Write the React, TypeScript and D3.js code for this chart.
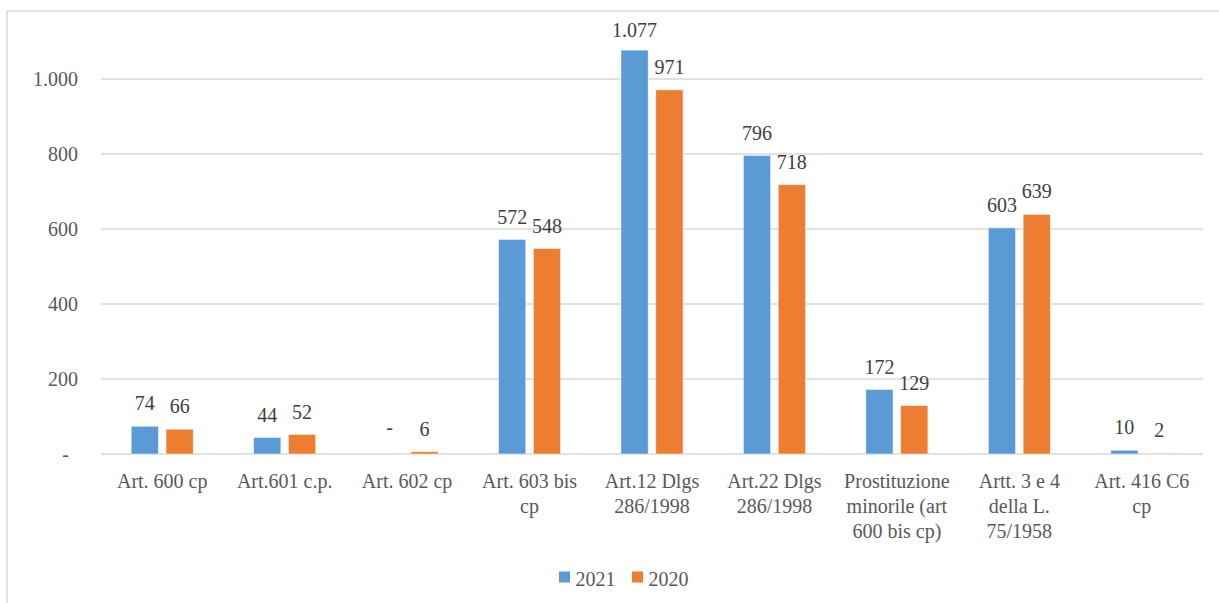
import React from "react";
import * as d3 from "d3";

// Categories (line breaks mark the wrapped axis labels)
const categories = [
  "Art. 600 cp",
  "Art.601 c.p.",
  "Art. 602 cp",
  "Art. 603 bis\ncp",
  "Art.12 Dlgs\n286/1998",
  "Art.22 Dlgs\n286/1998",
  "Prostituzione\nminorile (art\n600 bis cp)",
  "Artt. 3 e 4\ndella L.\n75/1958",
  "Art. 416 C6\ncp",
];
const seriesNames = ["2021", "2020"];
const values2021 = [74, 44, 0, 572, 1077, 796, 172, 603, 10];
const values2020 = [66, 52, 6, 548, 971, 718, 129, 639, 2];
const yTicks = [0, 200, 400, 600, 800, 1000];
const colors = ["#5B9BD5", "#ED7D31"];

const W = 1219;
const H = 603;
const plotLeft = 101;
const plotRight = 1203;
const font =
  'Tinos, "Liberation Serif", "Times New Roman", Times, "Noto Serif", "DejaVu Serif", serif';
const textColor = "#595959";
const gridColor = "#d9d9d9";

const fmt = (v: number) =>
  v === 0 ? "-" : v >= 1000 ? d3.format(",")(v).replace(/,/g, ".") : String(v);

export default function App() {
  const x0 = d3.scaleBand<string>().domain(categories).range([plotLeft, plotRight]).padding(0);
  const groupW = 62;
  const x1 = d3.scaleBand<string>().domain(seriesNames).range([0, groupW]).paddingInner(0.22);
  const y = d3.scaleLinear().domain([0, 1000]).range([454, 79]);
  const series = [values2021, values2020];
  const ts = { fontFamily: font } as React.CSSProperties;

  return (
    <svg
      width={W}
      height={H}
      style={{ position: "absolute", left: 0, top: 0, background: "#fff", fontFamily: font }}
    >
      {/* chart frame */}
      <line x1={7} y1={11} x2={W} y2={11} stroke={gridColor} strokeWidth={1.5} />
      <line x1={7} y1={11} x2={7} y2={H} stroke={gridColor} strokeWidth={1.5} />

      {/* gridlines and y tick labels */}
      {yTicks.map((t) => (
        <g key={t}>
          <line x1={plotLeft} x2={plotRight} y1={y(t)} y2={y(t)} stroke={gridColor} strokeWidth={1.5} />
          <text
            x={t === 0 ? 69 : 78}
            y={y(t) + 7}
            textAnchor="end"
            fontSize={20}
            fill={textColor}
            style={ts}
          >
            {t === 0 ? "-" : fmt(t)}
          </text>
        </g>
      ))}

      {/* bars and value labels */}
      {categories.map((c, i) => {
        const gx = (x0(c) as number) + (x0.bandwidth() - groupW) / 2;
        return (
          <g key={c}>
            {seriesNames.map((s, j) => {
              const v = series[j][i];
              const bx = gx + (x1(s) as number);
              const bw = x1.bandwidth();
              const top = y(v);
              const ly = Math.max(top - 16, 37);
              return (
                <g key={s}>
                  {v > 0 && (
                    <rect
                      x={bx}
                      y={top}
                      width={bw}
                      height={y(0) - top}
                      fill={colors[j]}
                      stroke="#ffffff"
                      strokeOpacity={0.6}
                      strokeWidth={0.75}
                    />
                  )}
                  <text
                    x={bx + bw / 2}
                    y={v === 0 ? ly - 4 : ly}
                    textAnchor="middle"
                    fontSize={20}
                    fill="#404040"
                    style={ts}
                  >
                    {fmt(v)}
                  </text>
                </g>
              );
            })}
            {c.split("\n").map((line, k) => (
              <text
                key={k}
                x={(x0(c) as number) + x0.bandwidth() / 2}
                y={488 + k * 25}
                textAnchor="middle"
                fontSize={20}
                fill={textColor}
                style={ts}
              >
                {line}
              </text>
            ))}
          </g>
        );
      })}

      {/* legend */}
      {seriesNames.map((s, j) => {
        const lx = j === 0 ? 559 : 632;
        return (
          <g key={s}>
            <rect x={lx} y={571.5} width={11} height={11} fill={colors[j]} />
            <text x={lx + 16.5} y={586} fontSize={20} fill={textColor} style={ts}>
              {s}
            </text>
          </g>
        );
      })}
    </svg>
  );
}
